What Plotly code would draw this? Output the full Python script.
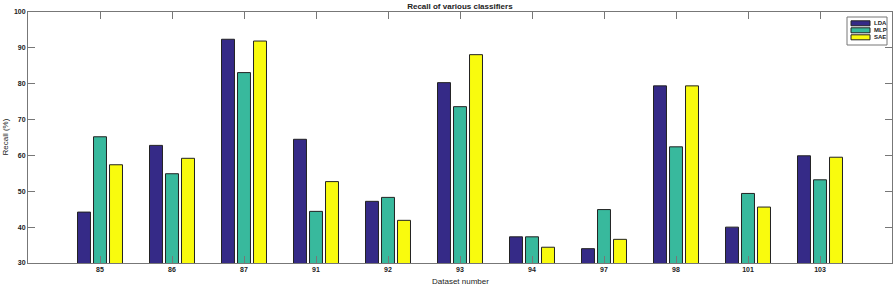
import plotly.graph_objects as go

categories = ["85", "86", "87", "91", "92", "93", "94", "97", "98", "101", "103"]
lda = [44.2, 62.8, 92.4, 64.5, 47.2, 80.3, 37.3, 34.0, 79.4, 40.0, 59.9]
mlp = [65.2, 54.9, 83.1, 44.4, 48.3, 73.6, 37.3, 44.9, 62.4, 49.4, 53.2]
sae = [57.4, 59.2, 91.9, 52.7, 41.9, 88.1, 34.4, 36.6, 79.4, 45.6, 59.5]
series_names = ["LDA", "MLP", "SAE"]
colors = ["#352a87", "#38b99d", "#f9fb0e"]
y_ticks = [30, 40, 50, 60, 70, 80, 90, 100]

xpos = list(range(1, len(categories) + 1))
FONT = "Liberation Sans, Arial"
W, H, ML, MR, MT, MB = 893, 286, 28, 1, 12, 23
PW, PH = W - ML - MR, H - MT - MB


def px_x(p):
    return (p - ML) / PW


def px_y(p):
    return (H - MB - p) / PH


fig = go.Figure()
for name, vals, col in zip(series_names, [lda, mlp, sae], colors):
    fig.add_trace(go.Bar(
        x=xpos, y=vals, name=name, showlegend=False,
        marker=dict(color=col, line=dict(color="#222222", width=1)),
    ))

axis_common = dict(
    showline=True, linecolor="#777777", linewidth=1, mirror="ticks",
    ticks="inside", ticklen=7, tickcolor="#777777", tickwidth=1,
    showgrid=False, zeroline=False, automargin=False,
    tickfont=dict(family=FONT, size=7, color="#222222", weight="bold"),
)

# compact MATLAB-style legend box
shapes = [dict(type="rect", xref="paper", yref="paper",
               x0=px_x(847), x1=px_x(887), y0=px_y(45), y1=px_y(17),
               line=dict(color="#777777", width=1), fillcolor="white", layer="above")]
annotations = []
for i, (name, col) in enumerate(zip(series_names, colors)):
    cy = 23.3 + i * 7.0
    shapes.append(dict(type="rect", xref="paper", yref="paper",
                       x0=px_x(851), x1=px_x(870), y0=px_y(cy + 2.5), y1=px_y(cy - 2.5),
                       line=dict(color="#222222", width=1), fillcolor=col, layer="above"))
    annotations.append(dict(text="<b>" + name + "</b>", xref="paper", yref="paper",
                            x=px_x(871.5), y=px_y(cy), xanchor="left", yanchor="middle",
                            showarrow=False, font=dict(size=6, color="#222222")))

annotations += [
    dict(text="Dataset number", xref="paper", yref="paper", x=0.5, y=0,
         yshift=-18, xanchor="center", yanchor="middle", showarrow=False,
         font=dict(size=8, color="#222222")),
    dict(text="Recall (%)", xref="paper", yref="paper", x=0, y=0.5,
         xshift=-23, textangle=-90, xanchor="center", yanchor="middle",
         showarrow=False, font=dict(size=8, color="#222222")),
]

fig.update_layout(
    width=W, height=H,
    margin=dict(l=ML, r=MR, t=MT, b=MB),
    paper_bgcolor="white", plot_bgcolor="white",
    barmode="group", bargap=0.333, bargroupgap=0.19,
    font=dict(family=FONT, size=8, color="#222222"),
    title=dict(text="<b>Recall of various classifiers</b>", x=0.515, xanchor="center",
               y=0.978, yref="container", yanchor="middle", automargin=False,
               font=dict(size=8, color="#222222")),
    xaxis=dict(range=[0, 12], tickvals=xpos, ticktext=categories, **axis_common),
    yaxis=dict(range=[30, 100], tickvals=y_ticks, **axis_common),
    showlegend=False,
    shapes=shapes,
    annotations=annotations,
)

fig.write_html("out.html", config={"displayModeBar": False},
               post_script="document.body.style.margin='0';document.body.style.overflow='hidden';")
